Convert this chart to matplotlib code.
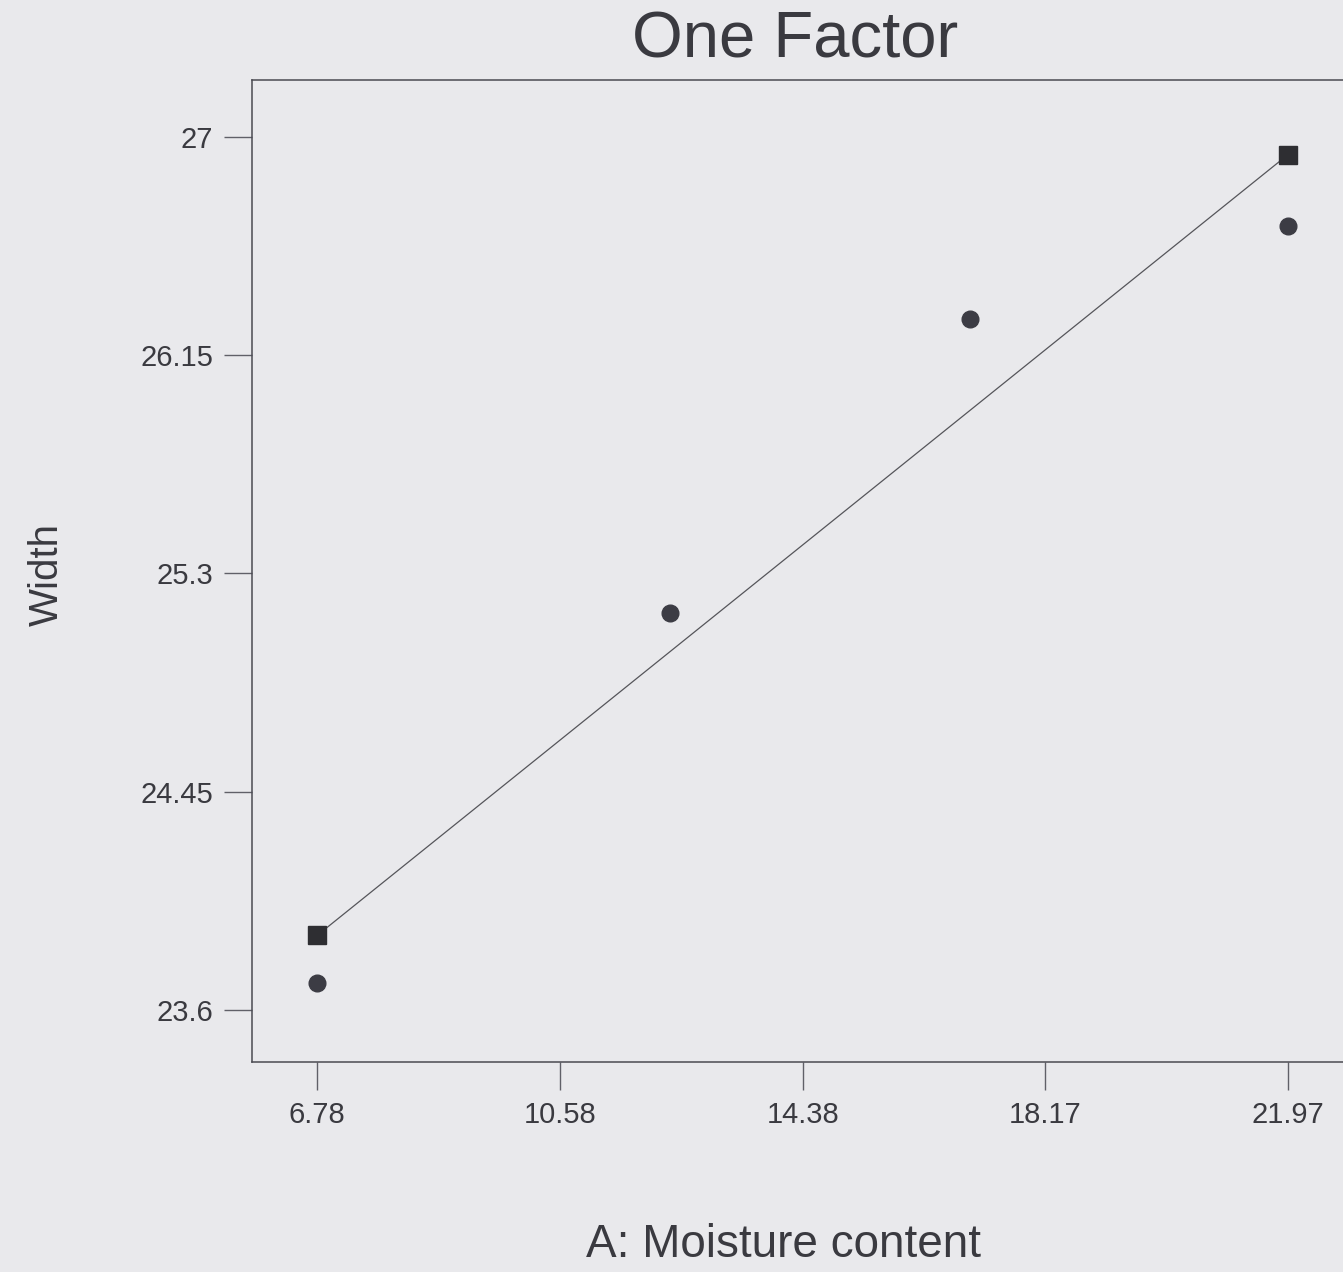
import matplotlib
matplotlib.use("Agg")
import matplotlib.pyplot as plt

# Data
moisture_obs = [6.78, 12.31, 17.0, 21.97]
width_obs = [23.705, 25.145, 26.29, 26.655]
moisture_fit = [6.78, 21.97]
width_fit = [23.89, 26.93]
xticks = [6.78, 10.58, 14.38, 18.17, 21.97]
yticks = [23.6, 24.45, 25.3, 26.15, 27.0]
ytick_labels = ["23.6", "24.45", "25.3", "26.15", "27"]

bg = "#e9e9ec"
ink = "#3a3a40"
plt.rcParams['font.family'] = ['Liberation Sans', 'DejaVu Sans']

fig = plt.figure(figsize=(13.43, 12.72), dpi=100, facecolor=bg)
W, H = 1343, 1272
left_px, right_px, top_px, bot_px = 252, 1400, 80, 1062
ax = fig.add_axes([left_px / W, 1 - bot_px / H, (right_px - left_px) / W, (bot_px - top_px) / H])
ax.set_facecolor(bg)

ax.plot(moisture_fit, width_fit, color="#55555a", lw=0.9, zorder=2)
ax.plot(moisture_fit, width_fit, ls="none", marker="s", ms=13, color="#2e2e32", zorder=3)
ax.plot(moisture_obs, width_obs, ls="none", marker="o", ms=12, color="#3c3c44", zorder=3)

ax.set_xlim(5.76, 23.73)
ax.set_ylim(23.397, 27.222)
ax.set_xticks(xticks)
ax.set_xticklabels([f"{v:.2f}" for v in xticks])
ax.set_yticks(yticks)
ax.set_yticklabels(ytick_labels)
ax.tick_params(axis="both", direction="out", length=20, width=1, colors="#606068",
               labelcolor=ink, labelsize=21, pad=8)
for s in ax.spines.values():
    s.set_color("#4a4a52")
    s.set_linewidth(1.1)

fig.text(795 / W, 1 - 40 / H, "One Factor", ha="center", va="center", fontsize=47, color=ink)
fig.text(783 / W, 1 - 1245 / H, "A: Moisture content", ha="center", va="center", fontsize=33, color=ink)
fig.text(47 / W, 1 - 574 / H, "Width", ha="center", va="center", rotation=90, fontsize=29, color=ink)

fig.savefig("out.png", dpi=100, facecolor=bg)
